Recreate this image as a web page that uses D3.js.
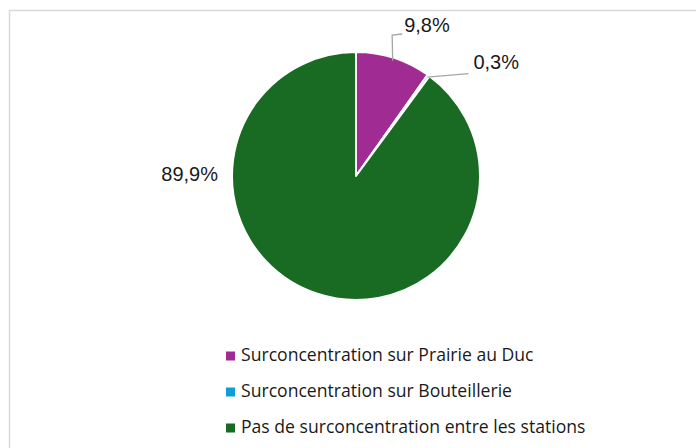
<!DOCTYPE html>
<html><head><meta charset="utf-8">
<script src="https://cdn.jsdelivr.net/npm/d3@7"></script>
<style>html,body{margin:0;padding:0;background:#fff;}svg{display:block;}</style>
</head><body>
<svg id="c" width="696" height="448"></svg>
<script>
const categories = ["Surconcentration sur Prairie au Duc", "Surconcentration sur Bouteillerie", "Pas de surconcentration entre les stations"];
const values = [9.8, 0.3, 89.9];
const labels = ["9,8%", "0,3%", "89,9%"];
const colors = ["#a02b93", "#0f9ed5", "#196b24"];

const W = 696, H = 448;
const svg = d3.select("#c");
svg.append("rect").attr("x", 9.5).attr("y", 10.5).attr("width", 700).attr("height", 460)
  .attr("fill", "#fff").attr("stroke", "#d9d9d9").attr("stroke-width", 1.5);

const cx = 356, cy = 176, r = 124;
const g = svg.append("g").attr("transform", `translate(${cx},${cy})`);
const pie = d3.pie().sort(null).value(d => d)(values);
const arc = d3.arc().innerRadius(0).outerRadius(r);
g.selectAll("path").data(pie).enter().append("path")
  .attr("d", arc).attr("fill", (d, i) => colors[i])
  .attr("stroke", "#fff").attr("stroke-width", 2).attr("stroke-linejoin", "round");

const lblFont = "'Liberation Sans', Arial, sans-serif";
const lblSize = 20;
function edge(d, rr) { const a = (d.startAngle + d.endAngle) / 2; return [rr * Math.sin(a), -rr * Math.cos(a)]; }

// label 0: 9,8%
{
  const p = edge(pie[0], r - 3);
  const bend = [p[0] - 0.5, -141];
  g.append("polyline").attr("points", [p, bend, [bend[0] + 10, bend[1] - 1]].map(q => q.join(",")).join(" "))
    .attr("fill", "none").attr("stroke", "#a6a6a6").attr("stroke-width", 1.3);
  g.append("text").attr("x", bend[0] + 12).attr("y", -149).attr("font-family", lblFont)
    .attr("font-size", lblSize).attr("fill", "#1a1a1a").attr("dominant-baseline", "middle").text(labels[0]);
}
// label 1: 0,3%
{
  const p = edge(pie[1], r - 2);
  const end = [p[0] + 41, p[1] - 3.5];
  g.append("polyline").attr("points", [p, end].map(q => q.join(",")).join(" "))
    .attr("fill", "none").attr("stroke", "#a6a6a6").attr("stroke-width", 1.3);
  g.append("text").attr("x", end[0] + 5).attr("y", -112).attr("font-family", lblFont)
    .attr("font-size", lblSize).attr("fill", "#1a1a1a").attr("dominant-baseline", "middle").text(labels[1]);
}
// label 2: 89,9%
g.append("text").attr("x", -r - 14).attr("y", 0).attr("text-anchor", "end").attr("font-family", lblFont)
  .attr("font-size", lblSize).attr("fill", "#1a1a1a").attr("dominant-baseline", "middle").text(labels[2]);

// legend
const lg = svg.append("g");
const ly = d3.scalePoint().domain(categories).range([356, 428]);
categories.forEach((c, i) => {
  lg.append("rect").attr("x", 226).attr("y", ly(c) - 4.5).attr("width", 9).attr("height", 9).attr("fill", colors[i]);
  lg.append("text").attr("x", 241).attr("y", ly(c)).attr("dominant-baseline", "middle")
    .attr("font-family", "'Open Sans', sans-serif").attr("font-size", 17.6).attr("fill", "#1a1a1a").text(c);
});
</script>
</body></html>
